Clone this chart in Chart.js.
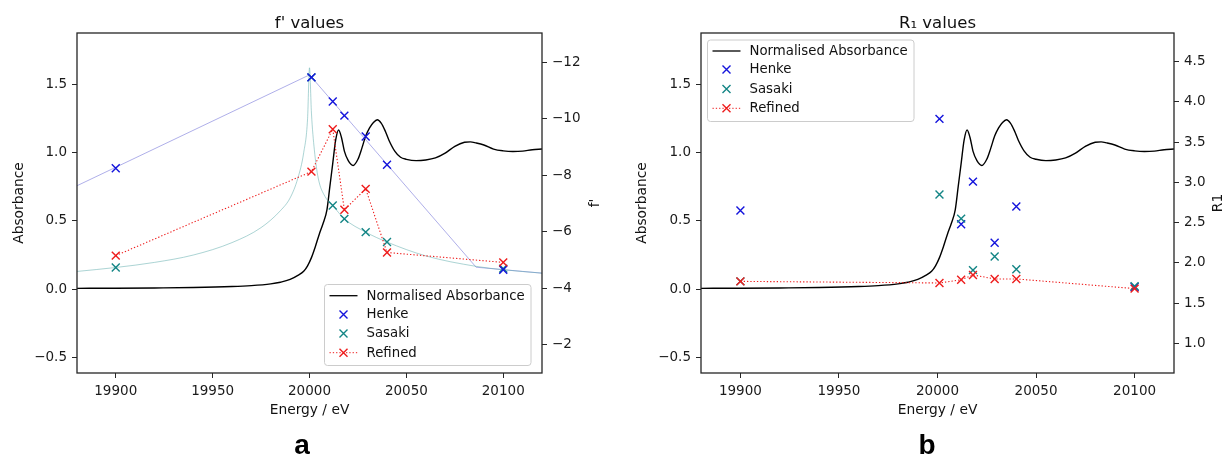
<!DOCTYPE html>
<html><head><meta charset="utf-8">
<script src="https://cdn.jsdelivr.net/npm/chart.js@4.4.1/dist/chart.umd.min.js"></script>
<style>
html,body{margin:0;padding:0;background:#fff;}
#wrap{position:relative;width:1225px;height:457px;overflow:hidden;background:#fff;}
canvas{position:absolute;top:0;}
</style></head><body>
<div id="wrap">
<canvas id="c1" width="612" height="457" style="left:0;width:612px;height:457px"></canvas>
<canvas id="c2" width="613" height="457" style="left:612px;width:613px;height:457px"></canvas>
</div>
<script>
// ---------- data ----------
const energyTicks = [19900, 19950, 20000, 20050, 20100];
const energyLabels = ['19900', '19950', '20000', '20050', '20100'];
const absTicks = [-0.5, 0, 0.5, 1.0, 1.5];
const absLabels = ['\u22120.5', '0.0', '0.5', '1.0', '1.5'];
const fpTicks = [-12, -10, -8, -6, -4, -2];
const fpLabels = ['\u221212', '\u221210', '\u22128', '\u22126', '\u22124', '\u22122'];
const r1Ticks = [1.0, 1.5, 2.0, 2.5, 3.0, 3.5, 4.0, 4.5];
const r1Labels = ['1.0', '1.5', '2.0', '2.5', '3.0', '3.5', '4.0', '4.5'];

const absEnergy = [19880, 19900, 19920, 19940, 19960, 19970, 19980, 19985, 19990, 19994, 19997, 19999,
  20001, 20003, 20005, 20007, 20009, 20010.5, 20012, 20013.5, 20015, 20016.5, 20018, 20020, 20022.5,
  20025, 20027, 20029, 20031, 20033, 20035, 20037, 20039, 20041, 20044, 20047, 20050, 20055, 20060,
  20065, 20070, 20075, 20080, 20083, 20086, 20090, 20095, 20100, 20105, 20110, 20115, 20120];
const absValues = [0.005, 0.006, 0.008, 0.011, 0.018, 0.025, 0.038, 0.05, 0.07, 0.10, 0.13, 0.17,
  0.23, 0.31, 0.40, 0.48, 0.58, 0.75, 0.92, 1.09, 1.165, 1.11, 1.01, 0.94, 0.905,
  0.95, 1.03, 1.12, 1.18, 1.22, 1.24, 1.215, 1.16, 1.09, 1.01, 0.965, 0.95, 0.94, 0.945,
  0.96, 0.995, 1.045, 1.075, 1.078, 1.07, 1.055, 1.025, 1.012, 1.007, 1.01, 1.02, 1.025];

const markerEnergy = [19900, 20001, 20012, 20018, 20029, 20040, 20100];
const henkeF = [-8.25, -11.46, -10.61, -10.11, -9.37, -8.37, -4.66];
const sasakiF = [-4.74, -11.46, -6.93, -6.46, -5.99, -5.64, -4.70];
const refinedF = [-5.16, -8.13, -9.63, -6.78, -7.52, -5.27, -4.92];

const henkeLineE = [19880, 20000, 20086, 20120];
const henkeLineF = [-7.63, -11.55, -4.75, -4.54];
const sasakiLineE = [19880, 19900, 19920, 19940, 19960, 19975, 19985, 19990, 19994, 19997, 19999, 20000,
  20001, 20002.5, 20004.5, 20008, 20012, 20018, 20029, 20040, 20060, 20086, 20100, 20120];
const sasakiLineF = [-4.60, -4.74, -4.92, -5.18, -5.62, -6.15, -6.75, -7.2, -7.9, -8.8, -10.0, -11.8,
  -10.2, -8.9, -7.9, -7.25, -6.93, -6.46, -5.99, -5.64, -5.15, -4.78, -4.66, -4.54];

const henkeR1 = [2.65, 3.79, 2.48, 3.01, 2.25, 2.70, 1.70];
const sasakiR1 = [1.77, 2.85, 2.55, 1.91, 2.08, 1.92, 1.71];
const refinedR1 = [1.77, 1.75, 1.79, 1.85, 1.80, 1.80, 1.68];

// ---------- styles ----------
const FONT = 'DejaVu Sans';
const C_HENKE = '#1414dc';
const C_SASAKI = '#138585';
const C_REFINED = '#ee1c1c';
const C_AXIS = '#262626';

const pts = (xs, ys) => xs.map((x, i) => ({x: x, y: ys[i]}));

function fixedTicks(arr) { return s => { s.ticks = arr.map(v => ({value: v})); }; }

function scaleCfg(opts) {
  return Object.assign({
    type: 'linear',
    grid: {drawOnChartArea: false, drawTicks: true, tickLength: 5, color: C_AXIS, lineWidth: 1},
    border: {display: false},
    ticks: {font: {family: FONT, size: 13.5}, color: '#1a1a1a', padding: 5, autoSkip: false, maxRotation: 0,
      callback: (v, i) => opts.labels[i]},
    afterBuildTicks: fixedTicks(opts.tickVals),
    afterFit: opts.fit
  }, opts.extra || {});
}

function crossAt(ctx, x, y, h, color) {
  ctx.save();
  ctx.strokeStyle = color; ctx.lineWidth = 1.4; ctx.setLineDash([]);
  ctx.beginPath();
  ctx.moveTo(x - h, y - h); ctx.lineTo(x + h, y + h);
  ctx.moveTo(x - h, y + h); ctx.lineTo(x + h, y - h);
  ctx.stroke();
  ctx.restore();
}

const decorPlugin = {
  id: 'decor',
  afterDraw(chart, args, o) {
    const ctx = chart.ctx;
    const ca = chart.chartArea;
    ctx.save();
    // frame
    ctx.strokeStyle = C_AXIS; ctx.lineWidth = 1.3;
    ctx.strokeRect(ca.left, ca.top, ca.right - ca.left, ca.bottom - ca.top);
    const cx = (ca.left + ca.right) / 2;
    // title
    ctx.fillStyle = '#111';
    ctx.textAlign = 'center'; ctx.textBaseline = 'alphabetic';
    ctx.font = '16.5px "' + FONT + '"';
    ctx.fillText(o.title, cx, 28);
    // x label
    ctx.font = '13.8px "' + FONT + '"';
    ctx.fillText('Energy / eV', cx, 414);
    // y labels
    ctx.textBaseline = 'middle';
    const cy = (ca.top + ca.bottom) / 2;
    ctx.save(); ctx.translate(o.leftLabelX, cy); ctx.rotate(-Math.PI / 2);
    ctx.fillText('Absorbance', 0, 0); ctx.restore();
    ctx.save(); ctx.translate(o.rightLabelX, cy); ctx.rotate(-Math.PI / 2);
    ctx.fillText(o.rightLabel, 0, 0); ctx.restore();
    // panel letter
    ctx.font = 'bold 28px "Liberation Sans"';
    ctx.textBaseline = 'alphabetic';
    ctx.fillStyle = '#000';
    ctx.fillText(o.letter, o.letterX, 454);
    // legend
    const L = o.legend;
    ctx.beginPath();
    if (ctx.roundRect) ctx.roundRect(L.x, L.y, L.w, L.h, 3); else ctx.rect(L.x, L.y, L.w, L.h);
    ctx.fillStyle = 'rgba(255,255,255,0.85)'; ctx.fill();
    ctx.strokeStyle = '#cccccc'; ctx.lineWidth = 1; ctx.stroke();
    const rows = [
      {label: 'Normalised Absorbance', kind: 'line', color: '#000'},
      {label: 'Henke', kind: 'marker', color: C_HENKE},
      {label: 'Sasaki', kind: 'marker', color: C_SASAKI},
      {label: 'Refined', kind: 'both', color: C_REFINED}
    ];
    ctx.font = '13.3px "' + FONT + '"';
    ctx.textAlign = 'left'; ctx.textBaseline = 'middle';
    rows.forEach((r, i) => {
      const y = L.rowY[i];
      const x0 = L.x + 5, x1 = L.x + 33, xm = (x0 + x1) / 2;
      if (r.kind === 'line') {
        ctx.strokeStyle = r.color; ctx.lineWidth = 1.3; ctx.setLineDash([]);
        ctx.beginPath(); ctx.moveTo(x0, y); ctx.lineTo(x1, y); ctx.stroke();
      } else if (r.kind === 'both') {
        ctx.strokeStyle = r.color; ctx.lineWidth = 1; ctx.setLineDash([1.3, 2]);
        ctx.beginPath(); ctx.moveTo(x0, y); ctx.lineTo(x1, y); ctx.stroke();
        ctx.setLineDash([]);
        crossAt(ctx, xm, y, 4, r.color);
      } else {
        crossAt(ctx, xm, y, 4, r.color);
      }
      ctx.fillStyle = '#111';
      ctx.fillText(r.label, L.x + 42, y + 0.5);
    });
    ctx.restore();
  }
};

const markerDS = (label, ys, color, axis, order) => ({
  label, data: pts(markerEnergy, ys), yAxisID: axis, showLine: false,
  pointStyle: 'crossRot', pointRadius: 5.6, pointBorderWidth: 1.4,
  pointBorderColor: color, pointBackgroundColor: color, borderColor: color, order
});

const absDS = {
  label: 'Normalised Absorbance', data: pts(absEnergy, absValues), yAxisID: 'y', showLine: true,
  borderColor: '#000', borderWidth: 1.4, pointRadius: 0, cubicInterpolationMode: 'monotone', order: 6
};

const refinedDS = (ys, axis) => ({
  label: 'Refined', data: pts(markerEnergy, ys), yAxisID: axis, showLine: true,
  borderColor: C_REFINED, borderWidth: 1.1, borderDash: [1.3, 2], tension: 0,
  pointStyle: 'crossRot', pointRadius: 5.6, pointBorderWidth: 1.4,
  pointBorderColor: C_REFINED, pointBackgroundColor: C_REFINED, order: 1
});

const xScale = (w) => scaleCfg({
  tickVals: energyTicks, labels: energyLabels, fit: s => { s.height = 84; },
  extra: {position: 'bottom', min: 19880, max: 20120}
});

const commonOpts = {
  responsive: false, animation: false, events: [],
  plugins: {legend: {display: false}, tooltip: {enabled: false}}
};

// ---------- chart a ----------
new Chart(document.getElementById('c1'), {
  type: 'scatter',
  data: {datasets: [
    absDS,
    {label: 'Henke curve', data: pts(henkeLineE, henkeLineF), yAxisID: 'y2', showLine: true,
      borderColor: 'rgba(110,110,215,0.55)', borderWidth: 1, pointRadius: 0, tension: 0, order: 5},
    {label: 'Sasaki curve', data: pts(sasakiLineE, sasakiLineF), yAxisID: 'y2', showLine: true,
      borderColor: 'rgba(90,170,170,0.5)', borderWidth: 1, pointRadius: 0, cubicInterpolationMode: 'monotone', order: 4},
    markerDS('Henke', henkeF, C_HENKE, 'y2', 2),
    markerDS('Sasaki', sasakiF, C_SASAKI, 'y2', 3),
    refinedDS(refinedF, 'y2')
  ]},
  options: Object.assign({}, commonOpts, {
    layout: {padding: {top: 33, left: 0, right: 0, bottom: 0}},
    scales: {
      x: xScale(),
      y: scaleCfg({tickVals: absTicks, labels: absLabels, fit: s => { s.width = 77; },
        extra: {position: 'left', min: -0.615, max: 1.875}}),
      y2: scaleCfg({tickVals: fpTicks, labels: fpLabels, fit: s => { s.width = 70; },
        extra: {position: 'right', min: -13.03, max: -1.01, reverse: true}})
    },
    plugins: Object.assign({}, commonOpts.plugins, {
      decor: {title: "f' values", rightLabel: "f'", leftLabelX: 19, rightLabelX: 595,
        letter: 'a', letterX: 302,
        legend: {x: 324.5, y: 284.5, w: 206.5, h: 81, rowY: [295.7, 314.5, 333.5, 352.7]}}
    })
  }),
  plugins: [decorPlugin]
});

// ---------- chart b ----------
new Chart(document.getElementById('c2'), {
  type: 'scatter',
  data: {datasets: [
    absDS,
    markerDS('Henke', henkeR1, C_HENKE, 'y2', 3),
    markerDS('Sasaki', sasakiR1, C_SASAKI, 'y2', 2),
    refinedDS(refinedR1, 'y2')
  ]},
  options: Object.assign({}, commonOpts, {
    layout: {padding: {top: 33, left: 0, right: 0, bottom: 0}},
    scales: {
      x: xScale(),
      y: scaleCfg({tickVals: absTicks, labels: absLabels, fit: s => { s.width = 89; },
        extra: {position: 'left', min: -0.615, max: 1.875}}),
      y2: scaleCfg({tickVals: r1Ticks, labels: r1Labels, fit: s => { s.width = 51; },
        extra: {position: 'right', min: 0.631, max: 4.857}})
    },
    plugins: Object.assign({}, commonOpts.plugins, {
      decor: {title: 'R\u2081 values', rightLabel: 'R1', leftLabelX: 30, rightLabelX: 606,
        letter: 'b', letterX: 315,
        legend: {x: 95.5, y: 40, w: 206.5, h: 81.5, rowY: [51, 69.5, 89, 108.3]}}
    })
  }),
  plugins: [decorPlugin]
});
</script>
</body></html>
